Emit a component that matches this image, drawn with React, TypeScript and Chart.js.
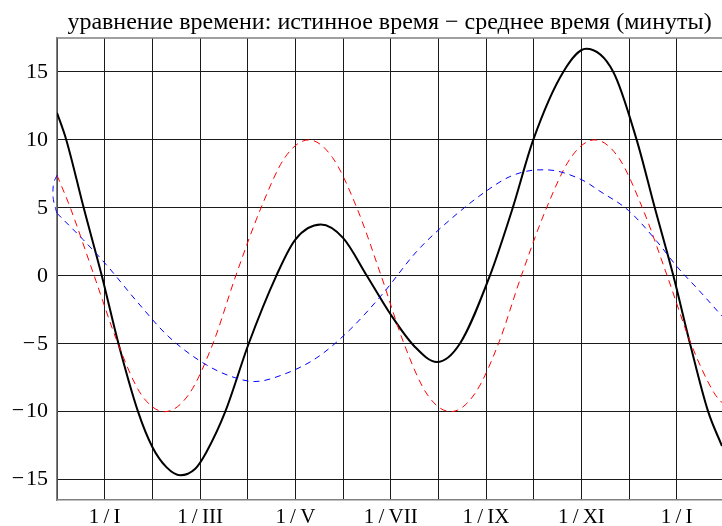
import { useEffect, useRef } from 'react';
import { Chart, registerables } from 'chart.js';

Chart.register(...registerables);

const titleText = 'уравнение времени: истинное время − среднее время (минуты)';

// x axis: months counted from 1 December (0) ; labels on odd months
const monthTicks = [1, 3, 5, 7, 9, 11, 13];
const monthLabels = ['1\u2009/\u2009I', '1\u2009/\u2009III', '1\u2009/\u2009V', '1\u2009/\u2009VII', '1\u2009/\u2009IX', '1\u2009/\u2009XI', '1\u2009/\u2009I'];

// equation of time (black solid)
const totalX = [0, 0.195, 0.56, 0.94, 1.29, 1.7, 2.0, 2.3, 2.585, 2.9, 3.13, 3.53, 4.02, 4.6, 5.0, 5.535, 6.0, 6.5, 7.0, 7.5, 7.97, 8.45, 9.08, 9.56, 9.99, 10.62, 11.1, 11.67, 12.16, 12.54, 12.93, 13.28, 13.66, 13.95];
const totalY = [12.0, 10, 5, 0, -5, -10, -12.6, -14.1, -14.68, -14.2, -13.0, -10, -5, 0, 2.67, 3.77, 2.79, 0, -2.85, -5.2, -6.35, -5, 0, 5, 10, 15, 16.7, 15, 10, 5, 0, -5, -10, -12.53];

// obliquity component (red dashed)
const obliqX = [0, 0.28, 0.78, 1.28, 1.76, 2.26, 2.77, 3.27, 3.75, 4.28, 4.78, 5.28, 5.78, 6.29, 6.8, 7.28, 7.76, 8.26, 8.76, 9.26, 9.74, 10.27, 10.78, 11.28, 11.78, 12.28, 12.8, 13.3, 13.78, 13.95];
const obliqY = [7.4, 5, 0, -5, -8.7, -10, -8.7, -5, 0, 5, 8.7, 10, 8.7, 5, 0, -5, -8.7, -10, -8.7, -5, 0, 5, 8.7, 10, 8.7, 5, 0, -5, -8.6, -9.34];

// eccentricity component (blue dashed)
const eccX = [0, 0.545, 1.03, 1.7, 2.33, 3.06, 3.63, 4.15, 4.75, 5.45, 6.15, 6.85, 7.55, 8.25, 8.99, 9.5, 9.99, 10.25, 11.0, 11.39, 11.99, 12.58, 13.0, 13.5, 13.95];
const eccY = [4.6, 2.67, 0.83, -1.99, -4.44, -6.4, -7.38, -7.78, -7.26, -6.03, -3.95, -1.25, 1.81, 4.14, 6.2, 7.3, 7.77, 7.8, 7.08, 6.22, 4.8, 2.55, 0.7, -1.2, -2.97];

// small loop of the blue curve at the left edge
const loopX = [0, -0.06, -0.085, -0.07, -0.03, 0];
const loopY = [7.4, 6.9, 6.2, 5.5, 4.95, 4.6];

const pts = (xs: number[], ys: number[]) => xs.map((x, i) => ({ x, y: ys[i] }));

const serif = '"Liberation Serif", "Times New Roman", serif';

const topBorder = {
  id: 'topBorder',
  afterDatasetsDraw(chart: any) {
    const { ctx, chartArea } = chart;
    ctx.save();
    ctx.strokeStyle = '#808080';
    ctx.lineWidth = 1.5;
    ctx.beginPath();
    ctx.moveTo(chartArea.left, chartArea.top);
    ctx.lineTo(chartArea.right, chartArea.top);
    ctx.stroke();
    ctx.restore();
  },
};

export default function App() {
  const ref = useRef<HTMLCanvasElement>(null);
  useEffect(() => {
    if (!ref.current) return;
    const chart = new Chart(ref.current, {
      type: 'line',
      data: {
        datasets: [
          {
            data: pts(eccX, eccY),
            borderColor: '#0000ff',
            borderWidth: 1,
            borderDash: [6, 5],
            pointRadius: 0,
            cubicInterpolationMode: 'monotone',
            fill: false,
          },
          {
            data: pts(loopX, loopY),
            borderColor: '#0000ff',
            borderWidth: 1,
            borderDash: [6, 5],
            pointRadius: 0,
            tension: 0.5,
            fill: false,
            clip: false as any,
          },
          {
            data: pts(obliqX, obliqY),
            borderColor: '#ff0000',
            borderWidth: 1,
            borderDash: [7, 5],
            pointRadius: 0,
            cubicInterpolationMode: 'monotone',
            fill: false,
          },
          {
            data: pts(totalX, totalY),
            borderColor: '#000000',
            borderWidth: 2,
            pointRadius: 0,
            cubicInterpolationMode: 'monotone',
            fill: false,
          },
        ],
      },
      options: {
        animation: false,
        responsive: true,
        maintainAspectRatio: false,
        layout: { padding: 0 },
        plugins: {
          legend: { display: false },
          tooltip: { enabled: false },
          title: {
            display: true,
            text: titleText,
            color: '#000',
            font: { family: serif, size: 24, weight: 'normal', lineHeight: 1.2 },
            padding: { top: 8, bottom: 1.2 },
            fullSize: false,
          },
        },
        scales: {
          x: {
            type: 'linear',
            min: 0,
            max: 13.95,
            afterFit: (s: any) => {
              s.height = 26;
            },
            ticks: {
              stepSize: 1,
              includeBounds: false,
              autoSkip: false,
              maxRotation: 0,
              minRotation: 0,
              padding: 5,
              color: '#000',
              font: { family: serif, size: 21 },
              callback: (v: any) => {
                const i = monthTicks.indexOf(Number(v));
                return i >= 0 ? monthLabels[i] : '';
              },
            },
            grid: { color: '#1a1a1a', lineWidth: 1, drawTicks: false },
            border: { color: '#808080', width: 1.5 },
          },
          y: {
            type: 'linear',
            min: -16.5,
            max: 17.5,
            afterFit: (s: any) => {
              s.width = 57;
            },
            ticks: {
              stepSize: 5,
              includeBounds: false,
              padding: 9,
              color: '#000',
              font: { family: serif, size: 22 },
              callback: (v: any) => (Number(v) < 0 ? '−\u200A' + Math.abs(Number(v)) : String(v)),
            },
            grid: { color: '#1a1a1a', lineWidth: 1, drawTicks: false },
            border: { color: '#808080', width: 1.5 },
          },
        },
      },
      plugins: [topBorder],
    });
    return () => chart.destroy();
  }, []);
  return (
    <div style={{ position: 'fixed', left: 0, top: 0, width: 722, height: 526, background: '#fff' }}>
      <canvas ref={ref} />
    </div>
  );
}
